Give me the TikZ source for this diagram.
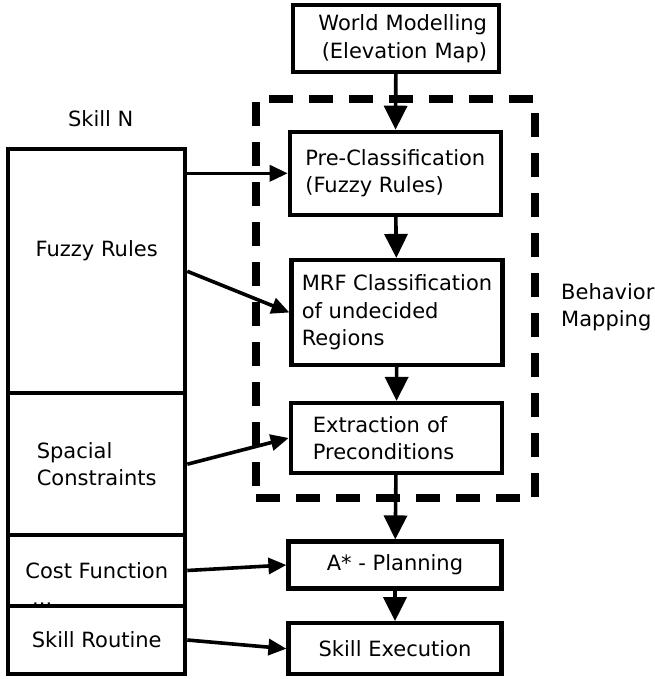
\documentclass[tikz,border=0pt]{standalone}
\usepackage{fontspec}
\setmainfont{DejaVu Sans}
\usepackage{tikz}
\usetikzlibrary{arrows.meta}
\tikzset{
    font=\fontsize{21}{27.5}\selectfont,
    block/.style = {
        draw,
        shape=rectangle,
        minimum width=211pt,
        line width=4.2pt,
        inner sep=0pt,
        align=left
    },
    part/.style = {
        draw,
        shape=rectangle,
        minimum width=177pt,
        line width=4.2pt,
        inner sep=0pt,
        align=left
    },
    region/.style = {
        draw,
        shape=rectangle,
        line width=8pt,
        dash pattern=on 24pt off 16pt,
        inner sep=0pt
    },
    empty/.style = {
        inner sep=0pt,
        align=left
    },
    wire/.style = {
        draw,
        line width=3.6pt
    },
    >={Triangle[length=18pt,width=16pt]},
    down/.style = {-{Triangle[length=24pt,width=23pt]}},
}

\begin{document}
\begin{tikzpicture}[x=1pt,y=-1pt]
    \useasboundingbox (0,0) rectangle (654,679);

    % behaviour mapping frame
    \node[region, minimum width=279pt, minimum height=399pt] (mapping) at (395.5,298.5) {};
    \node[empty, anchor=west] (mappinglbl) at (561,307) {Behavior\\Mapping};

    % pipeline on the right
    \node[block, minimum width=206pt, minimum height=67pt, text width=182pt, align=right] (world) at (396,38.5) {World Modelling\\(Elevation Map)};
    \node[block, minimum height=83pt] (pre) at (395.3,173.3) {Pre-Classification\\(Fuzzy Rules)};
    \node[block, minimum height=105pt] (mrf) at (397,312.5) {MRF Classification\\of undecided\\Regions};
    \node[block, minimum height=70pt, text width=167pt] (extr) at (396.3,438) {Extraction of\\Preconditions};
    \node[block, minimum width=213pt, minimum height=47pt] (astar) at (395,565) {A* - Planning};
    \node[block, minimum width=213pt, minimum height=51pt] (exec) at (395,648.7) {Skill Execution};

    % skill on the left
    \node[empty, anchor=base] (skilllbl) at (100.7,126.7) {Skill N};
    \node[part, minimum height=244pt, text height=16pt, text depth=45pt] (fuzzy) at (96.7,271.3) {Fuzzy Rules};
    \node[part, minimum height=142pt] (spacial) at (96.7,464.2) {Spacial\\Constraints};
    \node[part, minimum height=71pt] (cost) at (96.7,570.5) {Cost Function};
    \node[empty, anchor=base west] (dots) at (32,605.5) {...};
    \node[part, minimum height=68pt, fill=white] (routine) at (96.7,640) {Skill Routine};

    \path[wire, down] (world) -- (pre);
    \path[wire, down] (pre) -- (mrf);
    \path[wire, down] (mrf) -- (extr);
    \path[wire, down] (extr) -- (astar);
    \path[wire, down] (astar) -- (exec);

    \path[wire, ->] (fuzzy.east |- pre.west) -- (pre.west);
    \path[wire, ->] (fuzzy.east) -- (mrf.west);
    \path[wire, ->] (spacial.east) -- (extr.west);
    \path[wire, ->] (cost.east) -- (astar.west);
    \path[wire, ->] (routine.east) -- (exec.west);
\end{tikzpicture}
\end{document}
